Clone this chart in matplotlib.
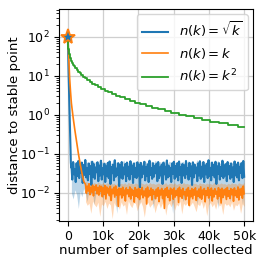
import numpy as np
import matplotlib
matplotlib.use("Agg")
import matplotlib.pyplot as plt

# ---------------- data ----------------
labels = [r"$n(k)=\sqrt{k}$", r"$n(k)=k$", r"$n(k)=k^2$"]
xtick_vals = [0, 10000, 20000, 30000, 40000, 50000]
xtick_labels = ["0", "10k", "20k", "30k", "40k", "50k"]

start_point = (0, 100)

# blue: initial descent
blue_desc_x = [0, 200, 400, 550, 700, 850, 950]
blue_desc_y = [100, 12, 2.5, 0.9, 0.25, 0.06, 0.045]
# blue noisy mean (units of 1e-3), from 1000 to 50000
blue_noise_milli = [
    55,22,62,30,41,19,58,27,66,24,47,33,60,18,52,29,70,25,44,21,
    57,31,49,16,63,26,54,23,45,34,61,20,50,28,67,22,43,30,56,19,
    48,27,59,24,64,17,46,32,53,21,69,26,42,29,58,15,51,25,62,23,
    45,30,55,20,60,27,47,22,65,31,50,18,57,26,44,24,61,28,52,14,
    59,25,48,31,63,21,46,27,54,19,67,29,43,23,58,26,49,32,56,20,
    62,24,45,28,53,17,60,30,47,22,68,25,50,27,44,19,57,31,63,23,
    49,26,58,21,64,29,46,18,55,28,51,24,66,30,43,22,59,27,48,16,
    61,25,53,32,45,20,57,28,65,23,47,26,62,19,50,30,56,24,69,27,
    44,21,60,29,52,25,63,17,48,31,58,22,46,27,67,24,51,28,55,20,
    62,30,49,23,57,26,45,19,64,28,53,25,60,21,47,33,58,24,66,26,
]
# blue spread band (units of 1e-3)
blue_band_lo_milli = [
    10,7,12,9,4,11,8,13,10,6,12,9,11,5,10,13,8,12,7,11,
    9,12,6,10,13,8,3,11,9,12,7,10,14,9,6,11,12,8,10,5,
    12,9,11,7,10,13,8,4,12,10,9,11,6,13,10,8,12,9,3,11,
    10,12,8,11,6,9,13,10,7,12,9,11,5,10,12,8,11,13,9,6,
    11,8,12,10,4,13,9,11,7,10,12,6,11,9,13,8,10,12,5,11,
]
blue_band_hi_milli = [
    60,66,57,62,70,58,64,55,66,61,59,71,57,63,60,68,56,65,60,62,
    58,66,61,56,69,60,63,57,65,59,70,56,62,60,67,55,64,61,58,66,
    61,56,68,60,63,58,66,56,69,62,59,64,57,67,61,55,65,61,60,63,
    57,68,59,62,65,56,61,67,58,63,61,56,71,60,64,59,66,55,62,61,
    65,58,63,60,68,57,61,64,56,67,61,62,58,69,59,63,57,66,61,60,
]

# orange: initial descent
orange_desc_x = [0, 250, 500, 750, 1000, 1500, 2000, 2500, 3000, 3500, 4000, 4500]
orange_desc_y = [100, 30, 9, 4, 2, 0.85, 0.4, 0.2, 0.1, 0.055, 0.032, 0.02]
# orange noisy mean (units of 1e-4), from 5000 to 50000
orange_noise = [
    165,98,150,112,172,90,140,105,158,84,145,118,160,95,138,88,152,108,147,80,
    135,92,155,70,142,101,130,85,148,64,125,96,139,78,150,88,122,45,133,90,
    128,74,140,86,118,62,135,95,120,80,142,70,126,88,115,58,137,82,124,76,
    131,68,119,90,138,75,112,84,127,52,141,79,116,87,133,66,121,92,110,71,
    125,83,136,60,118,89,130,72,114,40,128,85,139,77,117,63,132,94,122,69,
    134,78,113,86,127,57,140,81,119,73,131,90,108,67,124,84,137,48,116,80,
    129,71,121,88,135,64,112,82,126,75,143,69,118,91,130,59,115,86,138,74,
    120,87,133,62,117,79,128,93,111,70,136,83,123,55,132,76,119,89,127,68,
    138,81,114,72,129,90,121,61,134,85,116,77,142,66,125,88,131,73,150,95,
]
orange_band_lo = [
    60,48,55,30,62,50,44,58,25,52,47,61,40,55,49,22,57,45,53,38,
    59,46,51,28,63,49,42,56,54,35,48,60,45,24,52,58,43,50,55,31,
    47,57,41,53,60,27,49,55,44,58,36,51,46,62,29,54,48,56,43,50,
    58,45,33,52,47,61,40,55,26,49,57,44,53,38,60,46,51,28,55,48,
    52,44,59,36,50,47,56,30,53,45,
]
orange_band_hi = [
    200,188,180,195,172,185,168,190,178,170,186,165,181,175,189,168,179,162,184,173,
    176,169,182,163,187,172,178,166,181,170,160,183,174,167,180,164,186,171,177,166,
    172,181,165,177,169,184,162,175,179,168,182,163,173,178,166,185,170,176,165,180,
    168,179,173,161,183,171,176,166,180,169,175,164,186,172,177,167,181,170,174,162,
    178,167,182,171,176,165,184,173,169,188,
]

# green: step values at cumulative sample counts (n(k)=k^2)
green_x = [0, 1, 5, 14, 30, 55, 91, 140, 204, 285, 385, 506, 650, 819, 1015,
           1240, 1496, 1785, 2109, 2470, 2870, 3311, 3795, 4324, 4900, 5525,
           6201, 6930, 7714, 8555, 9455, 10416, 11440, 12529, 13685, 14910,
           16206, 17575, 19019, 20540, 22140, 23821, 25585, 27434, 29370,
           31395, 33511, 35720, 38024, 40425, 42925, 45526, 48230, 50000]
green_y = [100, 90.3, 81.5, 73.6, 66.5, 60.0, 54.2, 49.0, 44.2, 39.9, 36.1,
           32.6, 29.4, 26.5, 24.0, 21.6, 19.5, 17.7, 15.9, 14.4, 13.0, 11.7,
           10.6, 9.58, 8.65, 7.81, 7.05, 6.37, 5.75, 5.19, 4.69, 4.23, 3.82,
           3.45, 3.12, 2.81, 2.54, 2.29, 2.07, 1.87, 1.69, 1.52, 1.38, 1.24,
           1.12, 1.01, 0.915, 0.826, 0.746, 0.674, 0.608, 0.549, 0.496, 0.496]

# ---------------- plot ----------------
C_BLUE, C_ORANGE, C_GREEN = "#1f77b4", "#ff7f0e", "#2ca02c"
FS = 9.5
TFS = 9

fig = plt.figure(figsize=(2.66, 2.66), dpi=100)
ax = fig.add_axes([0.222, 0.169, 0.729, 0.797])

bx_noise = np.linspace(1000, 50000, len(blue_noise_milli))
bx_band = np.linspace(1000, 50000, len(blue_band_lo_milli))
ox_noise = np.linspace(5000, 50000, len(orange_noise))
ox_band = np.linspace(5000, 50000, len(orange_band_lo))

ax.fill_between(bx_band, np.array(blue_band_lo_milli) * 1e-3,
                np.array(blue_band_hi_milli) * 1e-3, color=C_BLUE, alpha=0.3, lw=0)
ax.plot(blue_desc_x + list(bx_noise), blue_desc_y + list(np.array(blue_noise_milli) * 1e-3),
        color=C_BLUE, lw=1.5, label=labels[0])

ax.fill_between(ox_band, np.array(orange_band_lo) * 1e-4,
                np.array(orange_band_hi) * 1e-4, color=C_ORANGE, alpha=0.3, lw=0)
ax.plot(orange_desc_x + list(ox_noise), orange_desc_y + list(np.array(orange_noise) * 1e-4),
        color=C_ORANGE, lw=1.2, label=labels[1])

ax.plot(green_x, green_y, color=C_GREEN, lw=1.3, drawstyle="steps-post", label=labels[2])

ax.plot([start_point[0]], [start_point[1]], marker="*", ms=11, mfc=C_BLUE,
        mec=C_ORANGE, mew=1.3, ls="none", zorder=10)

ax.set_yscale("log")
ax.set_ylim(0.0019, 520)
ax.set_xlim(-2500, 52500)
ax.set_xticks(xtick_vals)
ax.set_xticklabels(xtick_labels)
ax.tick_params(labelsize=TFS, pad=3)
ax.grid(True, which="major", color="#cfcfcf", lw=0.9)
ax.set_axisbelow(True)
ax.set_xlabel("number of samples collected", fontsize=FS, labelpad=1)
ax.set_ylabel("distance to stable point", fontsize=FS)
ax.yaxis.set_label_coords(-0.195, 0.5)
ax.legend(loc="upper right", fontsize=FS, borderaxespad=0.4, handlelength=2.0)

fig.savefig("out.png", dpi=100)
